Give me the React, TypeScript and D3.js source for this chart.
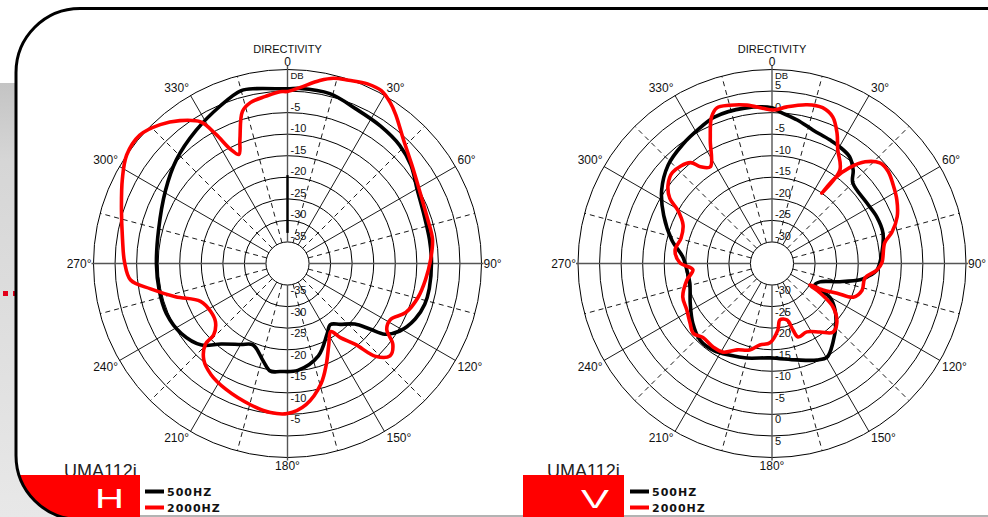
import React from "react";
import * as d3 from "d3";

type Pt = [number, number]; // [angle in degrees, clockwise from top; level in dB]

const W = 988;
const H = 517;
const R = 194;
const FONT = "'Liberation Sans', Arial, sans-serif";

const titleText = "DIRECTIVITY";
const modelName = "UMA112i";
const seriesNames = ["500HZ", "2000HZ"];
const panelLetters = ["H", "V"];
const angleTicks = [0, 30, 60, 90, 120, 150, 180, 210, 240, 270, 300, 330];

// horizontal panel
const hDomain: [number, number] = [-40, 5];
const hRingLabels = [-35, -30, -25, -20, -15, -10, -5];
const h500: Pt[] = [
  [0, 0.5], [4, 0.7], [14, 0.6], [24, -0.8], [34, -1.5], [43.5, -2.2], [51.5, -3.4],
  [60.5, -5.4], [70.5, -6.4], [80.5, -6.6], [89, -6.6], [100, -6.6], [106.5, -6.8],
  [113.5, -7.7], [121, -9.6], [126, -12.1], [128.5, -15.6], [132, -19], [139, -21.3],
  [145, -22.7], [150.5, -21.3], [161.5, -17.4], [174.5, -15.1], [184, -14.9], [189, -14.7],
  [194, -16.7], [203, -19.5], [210, -18.3], [219.5, -15.8], [226.5, -12.5], [236.5, -10.5],
  [247.5, -9.6], [258.5, -9.6], [269.5, -9.6], [284.5, -9.1], [301, -7], [313, -4.75],
  [325.5, -2.55], [337, -0.25], [345, 1.5], [350, 1.2],
];
const h2000: Pt[] = [
  [0, -0.1], [4, 0.9], [10, 3.1], [14, 4.3], [18.5, 4.8], [24, 5.6], [28.5, 5.6],
  [32.5, 4.3], [36, 2.7], [43, -0.6], [52.5, -3.4], [62.5, -5.2], [72.5, -5.9], [80.5, -5.9],
  [88.5, -6.8], [96.5, -7.75], [104.5, -8.7], [112.5, -10.3], [118.5, -12.8], [123.5, -12.4],
  [127.5, -9.2], [132, -8], [136.5, -10.3], [140, -15.5], [144.5, -18.9], [147.5, -21.3],
  [153, -18.9], [159, -14.9], [164.5, -11], [172.5, -7], [180, -5.2], [186.5, -5.2],
  [194.5, -6.1], [206, -7.5], [214.5, -8.7], [221, -10.4], [225.5, -13.3], [226, -16.2],
  [231, -18.5], [238, -19], [246.5, -18], [253.5, -12.9], [259.5, -7.7], [264, -3.4],
  [270.5, -2.2], [278.5, -1.3], [288, 0.5], [297, 3], [304, 5], [311, 5.4], [317.5, 3.7],
  [323, 1.5], [328.5, -1.5], [331, -5.7], [333.5, -10.4], [336, -12.3], [339, -9.2],
  [343.5, -3.2], [347, -1.7], [352.5, -0.9], [357.5, -0.1],
];

// vertical panel
const vDomain: [number, number] = [-35, 10];
const vRingLabels = [-30, -25, -20, -15, -10, -5, 0, 5];
const v500: Pt[] = [
  [0, 1.1], [3, 0.2], [10, -1.2], [17, -2.6], [25, -3.35], [30, -3.7], [36, -4.4], [41, -6.3],
  [45, -8.5], [57.5, -8.9], [66, -8.4], [74.5, -8.3], [84.5, -9.4], [93.5, -10.6], [98, -12.7],
  [100.5, -14.2], [105, -18.7], [111, -23.1], [116.5, -23.9], [119, -22.3], [120.5, -19.3],
  [126.5, -16.8], [133, -14.7], [142.5, -11.8], [149.5, -9.8], [155, -10.3], [165.5, -11.9],
  [181, -13.1], [195, -12.3], [204.5, -11.6], [214, -10.7], [223, -10.6], [233, -12],
  [244, -13.9], [256.5, -15.4], [265.5, -15.2], [274, -14.3], [283, -11.2], [294, -7.5],
  [303.5, -4.3], [313.5, -1.8], [323, -0.5], [332, 0.6], [338.5, 1.5], [350, 1.6],
];
const v2000: Pt[] = [
  [0.5, 0.6], [5.5, 1.5], [12.5, 2.7], [18, 3], [22.5, 1.8], [26.5, -1.2], [30, -4.5],
  [36, -8.2], [35.3, -15], [36.4, -10.4], [39, -6.4], [42.5, -3], [47, -0.8], [51.5, -0.6],
  [57, -1.5], [63, -2.5], [69.5, -4], [75.5, -6.3], [79.5, -8.4], [89.5, -9.5], [93.5, -10.6],
  [99, -13.2], [106.5, -13.2], [112.5, -14.6], [114.5, -18.4], [117.5, -21.7], [119.5, -24.9],
  [121.5, -21.9], [125.5, -17.6], [132.5, -14.6], [138.5, -13.7], [145, -15.6], [153, -17.2],
  [160.5, -16.9], [162.5, -18.8], [165, -21.4], [172, -21.8], [175, -19.5], [181.5, -16.6],
  [188.5, -15.9], [194.5, -14.3], [202, -13.4], [209, -11.5], [215, -11.3], [223, -11.5],
  [228.5, -10.6], [234, -11.5], [241.5, -12.5], [249.5, -12.9], [259, -14.9], [265.5, -16.6],
  [270.5, -13.6], [278, -12.3], [285.5, -13.1], [293.5, -12.5], [299.5, -9.9], [302.5, -6.9],
  [307, -4.8], [312.5, -3.7], [321, -4.9], [323.5, -7.1], [327.5, -8.4], [333.5, -2.9],
  [337.5, 1.7], [340.5, 3.3], [345, 3], [351, 2.2], [356.5, 1.1],
];

interface PanelProps {
  cx: number;
  cy: number;
  domain: [number, number];
  ringLabels: number[];
  s500: Pt[];
  s2000: Pt[];
  boldAxis?: boolean;
}

const Panel: React.FC<PanelProps> = ({ cx, cy, domain, ringLabels, s500, s2000, boldAxis }) => {
  const r = d3.scaleLinear().domain(domain).range([0, R]);
  const rings = d3.range(domain[0] + 5, domain[1] + 0.1, 5);
  const hole = r(rings[0]);
  const spokes = d3.range(0, 360, 15);

  const line = d3
    .lineRadial<Pt>()
    .angle((d) => (d[0] * Math.PI) / 180)
    .radius((d) => r(d[1]))
    .curve(d3.curveCatmullRomClosed.alpha(0.5));

  const angleLabel = (a: number) => {
    const rad = (a * Math.PI) / 180;
    const px = cx + R * Math.sin(rad);
    const py = cy - R * Math.cos(rad);
    if (a === 0) return { x: cx, y: cy - R - 4, anchor: "middle" };
    if (a === 180) return { x: cx, y: cy + R + 12, anchor: "middle" };
    if (a === 90) return { x: cx + R + 2, y: cy + 4, anchor: "start" };
    if (a === 270) return { x: cx - R - 2, y: cy + 4, anchor: "end" };
    const right = a < 180;
    const upper = a < 90 || a > 270;
    return {
      x: right ? px + 2 : px - 1.5,
      y: upper ? py - 3 : py + 10,
      anchor: right ? "start" : "end",
    };
  };

  return (
    <g fontFamily={FONT}>
      <text x={cx} y={53} textAnchor="middle" fontSize={11} fill="#111">
        {titleText}
      </text>

      {rings.map((v) => (
        <circle key={v} cx={cx} cy={cy} r={r(v)} fill="none" stroke="#000" strokeWidth={1} />
      ))}

      {spokes
        .filter((a) => a % 90 !== 0)
        .map((a) => {
          const rad = (a * Math.PI) / 180;
          const s = Math.sin(rad);
          const c = Math.cos(rad);
          return (
            <line
              key={a}
              x1={cx + hole * s}
              y1={cy - hole * c}
              x2={cx + R * s}
              y2={cy - R * c}
              stroke="#000"
              strokeWidth={0.9}
              strokeDasharray={a % 30 === 0 ? undefined : "5,4"}
            />
          );
        })}

      {/* main axes */}
      <g stroke="#555" strokeWidth={1.4}>
        <line x1={cx} y1={cy - R - 4} x2={cx} y2={cy - hole} />
        <line x1={cx} y1={cy + hole} x2={cx} y2={cy + R + 3} />
        <line x1={cx - R - 2} y1={cy} x2={cx - hole} y2={cy} />
        <line x1={cx + hole} y1={cy} x2={cx + R + 2} y2={cy} />
      </g>
      {boldAxis && (
        <line x1={cx} y1={cy - r(-19.5)} x2={cx} y2={cy - r(-32.9)} stroke="#000" strokeWidth={2.4} />
      )}

      <g fontSize={11} fill="#111">
        <text x={cx + 3} y={cy - R + 9.5} fontSize={9.5}>
          DB
        </text>
        {ringLabels.map((v) => (
          <text key={"t" + v} x={cx + 3} y={cy - r(v) - 2}>
            {v}
          </text>
        ))}
        {ringLabels.map((v) => (
          <text key={"b" + v} x={cx + 3} y={cy + r(v) + 9}>
            {v}
          </text>
        ))}
      </g>

      <g fontSize={12} fill="#111">
        {angleTicks.map((a) => {
          const p = angleLabel(a);
          return (
            <text key={a} x={p.x} y={p.y} textAnchor={p.anchor as any}>
              {a === 0 ? "0" : `${a}°`}
            </text>
          );
        })}
      </g>

      <g transform={`translate(${cx},${cy})`} fill="none" strokeLinejoin="round">
        <path d={line(s500) ?? ""} stroke="#000" strokeWidth={3.6} />
        <path d={line(s2000) ?? ""} stroke="#ff0000" strokeWidth={3.6} />
      </g>
    </g>
  );
};

const framePath = "M 1100 8.5 H 80 A 64 64 0 0 0 16 72.5 V 455.5 A 64 64 0 0 0 80 519.5 H 1100";

const Legend: React.FC<{ x: number }> = ({ x }) => (
  <g fontFamily="'DejaVu Sans', Verdana, sans-serif" fontWeight="bold" fontSize={11} letterSpacing={1}>
    <line x1={x} x2={x + 19} y1={491.5} y2={491.5} stroke="#000" strokeWidth={4} />
    <text x={x + 22} y={496} fill="#111">
      {seriesNames[0]}
    </text>
    <line x1={x} x2={x + 19} y1={507.5} y2={507.5} stroke="#ff0000" strokeWidth={4} />
    <text x={x + 22} y={512} fill="#111">
      {seriesNames[1]}
    </text>
  </g>
);

export default function App() {
  return (
    <svg
      width={W}
      height={H}
      viewBox={`0 0 ${W} ${H}`}
      style={{ position: "absolute", left: 0, top: 0, background: "#fff" }}
    >
      <defs>
        <linearGradient id="sideGrad" x1="0" y1="0" x2="0" y2="1">
          <stop offset="0" stopColor="#c4c4c4" />
          <stop offset="0.18" stopColor="#d6d6d6" />
          <stop offset="1" stopColor="#e8e8e8" />
        </linearGradient>
        <clipPath id="frameClip">
          <path d={framePath} />
        </clipPath>
      </defs>

      <rect x={0} y={83} width={120} height={H - 83} fill="url(#sideGrad)" />
      <rect x={3} y={291} width={5} height={5} fill="#e3001b" />
      <rect x={13} y={291} width={4} height={5} fill="#e3001b" />
      <path d={framePath} fill="#fff" />

      <Panel cx={287.5} cy={263.5} domain={hDomain} ringLabels={hRingLabels} s500={h500} s2000={h2000} boldAxis />
      <Panel cx={772} cy={263.5} domain={vDomain} ringLabels={vRingLabels} s500={v500} s2000={v2000} />

      <g fontFamily={FONT} fontSize={18} fill="#222">
        <text x={64} y={477}>
          {modelName}
        </text>
        <text x={547} y={477}>
          {modelName}
        </text>
      </g>

      <line x1={140} x2={W} y1={516} y2={516} stroke="#9a9a9a" strokeWidth={1.5} />

      <g clipPath="url(#frameClip)">
        <rect x={0} y={475} width={140} height={50} fill="#ff0000" />
      </g>
      <rect x={523} y={475} width={101} height={45} fill="#ff0000" />

      <g fontFamily={FONT} fill="#fff">
        <text x={95} y={508} fontSize={28} textLength={29} lengthAdjust="spacingAndGlyphs">
          {panelLetters[0]}
        </text>
        <text x={581} y={508} fontSize={25} textLength={28} lengthAdjust="spacingAndGlyphs">
          {panelLetters[1]}
        </text>
      </g>

      <Legend x={145} />
      <Legend x={630} />

      <path d={framePath} fill="none" stroke="#000" strokeWidth={3} />
    </svg>
  );
}
